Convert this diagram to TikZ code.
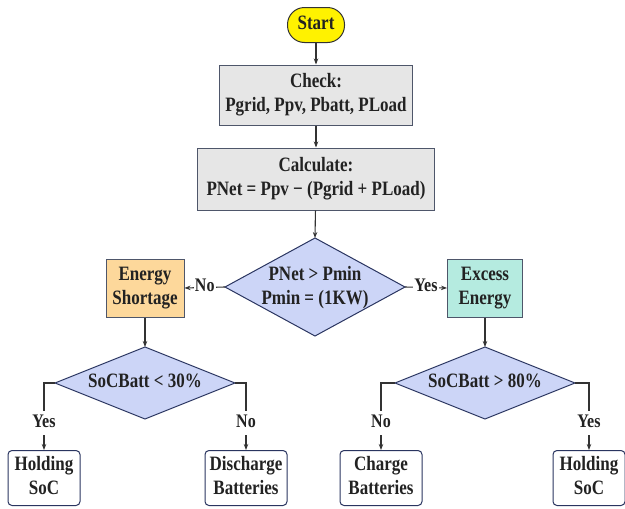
\documentclass[tikz,border=0pt]{standalone}
\usepackage{fontspec}
\setmainfont{Liberation Serif}
\usetikzlibrary{arrows.meta}
\definecolor{txt}{HTML}{222222}
\definecolor{ln}{HTML}{333333}
\definecolor{boxgray}{HTML}{E6E6E6}
\definecolor{boxedge}{HTML}{4E566A}
\definecolor{dfill}{HTML}{CCD5F7}
\definecolor{dedge}{HTML}{2A3560}
\definecolor{orng}{HTML}{FDD89B}
\definecolor{teal}{HTML}{B5EBE0}
\definecolor{yel}{HTML}{FFF200}
\newcommand{\vs}[1]{\scalebox{1}[1.2]{\begin{tabular}{@{}c@{}}#1\end{tabular}}}
\begin{document}
\begin{tikzpicture}[x=1pt,y=-1pt,
  every node/.style={text=txt,font=\fontsize{17}{20}\selectfont\bfseries,align=center,inner sep=0pt},
  proc/.style={draw=boxedge,line width=1pt,fill=boxgray},
  side/.style={draw=boxedge,line width=1pt},
  fin/.style={draw=dedge,line width=1pt,fill=white,rounded corners=4pt,minimum width=72pt,minimum height=55pt},
  dia/.style={draw=dedge,line width=1pt,fill=dfill},
  arr/.style={draw=ln,line width=1.1pt,-{Stealth[length=6pt,width=4.5pt]}},
  lbl/.style={fill=white,inner sep=1pt,font=\fontsize{16}{18}\selectfont\bfseries}
]
\useasboundingbox (0,0) rectangle (625,509);
\node[draw=ln,line width=1pt,fill=yel,rounded corners=17pt,minimum width=57pt,minimum height=35pt] (start) at (316,25) {\vs{Start}};
\node[proc,minimum width=193pt,minimum height=60pt] (check) at (316,95) {\vs{Check:\\Pgrid, Ppv, Pbatt, PLoad}};
\node[proc,minimum width=237pt,minimum height=62pt] (calc) at (316,179) {\vs{Calculate:\\PNet = Ppv − (Pgrid + PLoad)}};
% diamond 1
\coordinate (d1) at (315,287);
\path[dia] (315,238) coordinate (d1n) -- (405,287) coordinate (d1e) -- (315,336) coordinate (d1s) -- (225,287) coordinate (d1w) -- cycle;
\node (d1t) at (315,288) {\vs{PNet > Pmin\\Pmin = (1KW)}};
\node[side,fill=orng,minimum width=78pt,minimum height=58pt] (es) at (145,288) {\vs{Energy\\Shortage}};
\node[side,fill=teal,minimum width=75pt,minimum height=58pt] (ee) at (485,288) {\vs{Excess\\Energy}};
% diamond 2
\coordinate (d2) at (145,383);
\path[dia] (145,347) coordinate (d2n) -- (235,383) coordinate (d2e) -- (145,419) coordinate (d2s) -- (55,383) coordinate (d2w) -- cycle;
\node (d2t) at (d2) {\vs{SoCBatt < 30\%}};
% diamond 3
\coordinate (d3) at (485,383);
\path[dia] (485,347) coordinate (d3n) -- (575,383) coordinate (d3e) -- (485,419) coordinate (d3s) -- (395,383) coordinate (d3w) -- cycle;
\node (d3t) at (d3) {\vs{SoCBatt > 80\%}};
\node[fin] (h1) at (44,478) {\vs{Holding\\SoC}};
\node[fin,minimum width=82pt] (dis) at (246,478) {\vs{Discharge\\Batteries}};
\node[fin,minimum width=82pt] (chg) at (381,478) {\vs{Charge\\Batteries}};
\node[fin] (h2) at (589,478) {\vs{Holding\\SoC}};
% connectors
\draw[arr] (start) -- (check);
\draw[arr] (check) -- (calc);
\draw[arr] (calc) -- (d1n);
\draw[arr] (d1w) -- node[lbl]{\vs{No}} (es.east);
\draw[arr] (d1e) -- node[lbl]{\vs{Yes}} (ee.west);
\draw[arr] (es.south) -- (d2n);
\draw[arr] (ee.south) -- (d3n);
\draw[arr] (d2w) -| node[lbl,pos=0.8]{\vs{Yes}} (h1.north);
\draw[arr] (d2e) -| node[lbl,pos=0.8]{\vs{No}} (dis.north);
\draw[arr] (d3w) -| node[lbl,pos=0.8]{\vs{No}} (chg.north);
\draw[arr] (d3e) -| node[lbl,pos=0.8]{\vs{Yes}} (h2.north);
\end{tikzpicture}
\end{document}
